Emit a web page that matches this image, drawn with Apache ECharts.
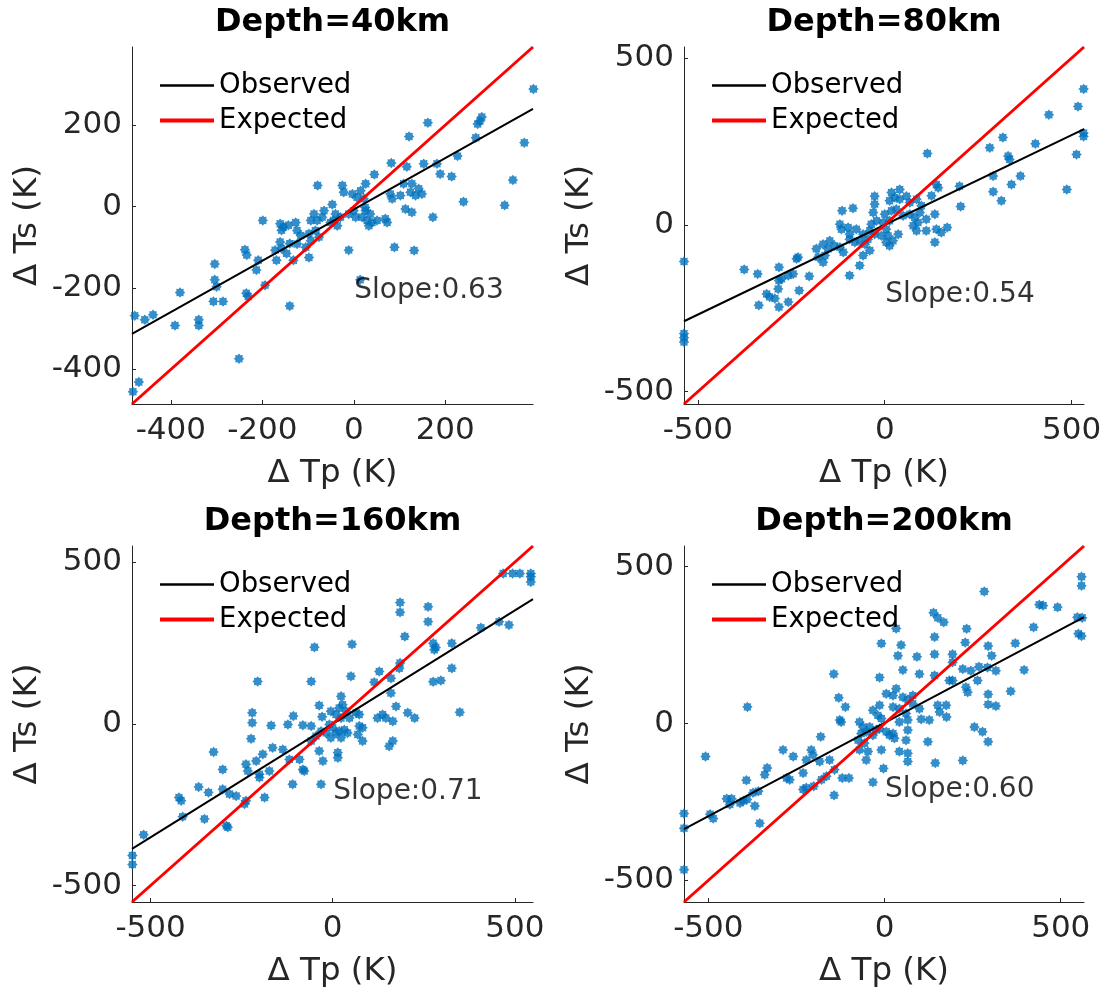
<!DOCTYPE html>
<html>
<head>
<meta charset="utf-8">
<script src="https://cdn.jsdelivr.net/npm/echarts@6/dist/echarts.min.js"></script>
<style>
html,body{margin:0;padding:0;background:#fff;}
#chart{width:1104px;height:995px;}
</style>
</head>
<body>
<div id="chart"></div>
<script>
// ---------------- data ----------------
const titles = ['Depth=40km', 'Depth=80km', 'Depth=160km', 'Depth=200km'];
const xName = '\u0394 Tp (K)';
const yName = '\u0394 Ts (K)';
const legendNames = ['Observed', 'Expected'];
const slopeLabels = ['Slope:0.63', 'Slope:0.54', 'Slope:0.71', 'Slope:0.60'];
const slopeAnchor = [0, -200];

const ranges = [[-485, 392], [-537, 533], [-551, 550], [-569, 566]];
const ticks40 = [-400, -200, 0, 200];
const ticks500 = [-500, 0, 500];
const tickSets = [ticks40, ticks500, ticks500, ticks500];

const obsLine40 = [[-485, -313], [392, 240]];
const obsLine80 = [[-537, -289], [533, 287]];
const obsLine160 = [[-551, -387], [550, 386]];
const obsLine200 = [[-569, -337], [566, 339]];

const expLine40 = [[-485, -485], [392, 392]];
const expLine80 = [[-537, -537], [533, 533]];
const expLine160 = [[-551, -551], [550, 550]];
const expLine200 = [[-569, -569], [566, 566]];

const pts40 = [
[393,289],[280,220],[276,210],[271,203],[162,206],[121,172],[267,169],[373,157],[227,124],[214,74],[240,12],[330,3],[348,65],
[-199,-34],[-161,-42],[-154,-50],[-143,-46],[-158,-58],[-161,-87],[-140,-91],[-158,-103],[-147,-115],[-132,-132],
[-238,-106],[-234,-119],[-209,-132],[-213,-156],[-172,-107],[-169,-132],[14,-180],
[-304,-141],[-304,-180],[-300,-197],[-307,-233],[-286,-233],[-235,-213],[-231,-221],[-194,-193],[-380,-211],[-140,-244],
[-391,-292],[-339,-278],[-339,-292],[-479,-268],[-457,-278],[-439,-266],[-251,-374],[-470,-431],[-483,-455],
[82,107],[116,98],[153,105],[182,105],[189,80],[45,79],[-79,52],[-25,52],[26,56],
[-22,35],[-3,31],[15,39],[7,23],[22,19],
[109,56],[127,56],[142,44],[124,35],[135,27],[149,31],
[80,31],[84,19],[102,27],
[-47,5],[113,-6],[127,-14],[173,-26],
[26,-10],[36,-18],[29,-34],[40,-39],[33,-47],[18,-26],[51,-34],[69,-30],[73,-39],[25,-2],
[0,-10],[-11,-18],[4,-26],
[-40,-18],[-29,-26],[-44,-34],[-36,-47],[-51,-39],
[-87,-18],[-69,-26],[-80,-34],[-94,-34],[-65,-10],
[-127,-39],[-124,-59],[-116,-71],[-98,-67],[-84,-59],[-76,-75],[-94,-84],[-105,-100],[-98,-125],[-124,-92],
[-11,-107],[89,-100],[132,-108]
];

const pts80 = [
[532,407],[517,355],[439,330],[532,275],[532,265],[513,211],[316,262],[281,231],[403,243],[330,206],[334,196],[114,214],
[290,146],[363,146],[339,121],[290,99],[312,72],[487,106],[200,116],[203,55],[167,-8],[151,-23],[134,-52],[138,121],[143,111],[125,87],
[-232,-97],[-236,-102],[-258,-152],[-245,-147],[-283,-127],[-283,-167],[-276,-162],[-202,-154],[-229,-197],[-258,-231],
[-376,-134],[-340,-147],[-316,-207],[-308,-216],[-294,-221],[-285,-192],[-337,-241],[-283,-246],
[-537,-110],[-537,-326],[-537,-338],[-537,-351],[-165,-112],
[40,106],[18,97],[27,82],[13,72],[40,77],[58,86],[67,67],[85,77],[98,57],
[-27,86],[-27,62],[-31,37],[-114,42],[-85,50],
[0,32],[18,42],[31,47],[49,27],[67,32],[80,22],[94,37],
[-4,7],[13,12],[-22,12],[-36,2],
[76,-3],[89,7],[85,-18],[111,-18],[138,-13],[134,32],[111,17],
[-120,2],[-116,-13],[-98,-8],[-94,-28],
[-76,-13],[-58,-28],[-45,-43],[-53,-58],[-40,-18],[-27,-28],[-67,-48],
[4,-13],[9,-33],[22,-48],[13,-63],[36,-28],[-9,-33],[4,-52],
[-183,-72],[-165,-58],[-147,-48],[-134,-63],[-152,-72],[-160,-92],[-178,-97],[-120,-67],[-111,-82],
[-94,-43],[-80,-52],
[-40,-77],[-58,-92],[-67,-122],[-94,-152]
];

const pts160 = [
[468,465],[494,465],[514,465],[544,465],[544,455],[544,439],
[185,375],[185,345],[262,362],[262,316],[484,306],[457,316],[407,297],[198,270],[53,246],[-50,237],
[276,249],[283,236],[279,229],[327,249],
[185,188],[183,172],[128,162],[160,141],[327,172],[50,147],[-59,131],[-206,131],[276,130],[297,134],[114,129],
[23,85],[27,59],[18,49],[-5,39],[9,29],[37,39],[23,18],[46,18],[64,34],[73,29],
[160,95],[174,54],[-37,57],[-29,22],
[-108,24],[-123,-2],[-82,-4],[-59,-7],
[-169,-5],[-221,34],[-221,3],[-224,-46],
[123,18],[137,29],[146,18],[165,8],[206,34],[225,18],[349,36],
[-9,-2],[0,-12],[9,-28],[-5,-43],[18,-23],[32,-18],[41,-28],[23,-43],[-18,-28],[-32,-23],[-46,-38],[-59,-53],
[73,-7],[82,-12],[69,-33],[82,-53],[155,-69],[165,-53],
[-165,-74],[-192,-94],[-210,-115],[-238,-125],[-233,-146],[-201,-156],[-174,-146],[-137,-79],[-119,-110],
[-91,-110],[-82,-141],[-78,-146],[-37,-84],[-27,-115],[14,-105],[14,-89],
[-327,-87],[-302,-141],[-201,-166],[-110,-187],[-32,-187],
[-368,-195],[-341,-212],[-302,-202],[-283,-217],[-265,-223],
[-238,-238],[-242,-248],[-187,-228],
[-422,-228],[-416,-238],[-412,-287],[-352,-294],[-292,-315],[-288,-320],[-519,-343],[-550,-407],[-550,-435]
];

const pts200 = [
[559,468],[559,439],[283,421],[439,379],[450,376],[491,371],[139,353],[151,337],[168,323],[33,303],[233,302],[423,307],
[547,339],[561,337],[550,286],[559,279],[142,276],[-9,255],[47,250],[38,216],[92,213],[142,221],[193,221],[193,195],
[229,258],[294,247],[304,216],[371,256],[52,171],[99,158],[142,153],[222,174],[245,168],[268,181],[292,179],[316,168],[396,171],
[-14,147],[-144,158],[184,137],[193,137],[231,116],[236,100],[264,137],[358,103],[294,93],[294,61],[316,56],
[33,111],[5,95],[24,89],[52,84],[66,76],[80,89],[-130,82],[-111,53],
[-14,58],[-33,42],[-19,26],[-9,16],[24,53],[42,47],[61,32],[80,63],[99,47],[66,11],[42,5],
[151,58],[175,58],[156,37],[176,21],[104,14],[127,11],[-389,53],[-127,11],[-123,5],
[-71,5],[-61,-11],[-52,-26],[-42,-11],[-33,-37],[-24,-21],[-66,-32],[-75,-53],[-57,-63],[-47,-89],[-71,-84],[-52,-116],
[-14,-16],[5,-26],[24,-32],[28,-47],[14,-37],[-9,-84],[-3,-143],
[66,-21],[61,-53],[42,-89],[66,-95],[66,-121],[123,-58],[144,-126],[222,-118],[255,-11],[278,-26],[294,-58],
[-181,-42],[-288,-84],[-259,-105],[-208,-84],[-203,-100],[-222,-116],[-184,-121],[-156,-116],[-142,-147],[-165,-168],[-179,-179],[-222,-205],[-231,-210],[-201,-200],
[-333,-142],[-340,-163],[-392,-181],[-358,-216],[-373,-221],[-390,-242],[-401,-247],[-410,-253],
[-448,-240],[-434,-240],[-439,-258],[-368,-263],[-278,-174],[-269,-179],[-231,-158],
[-120,-174],[-101,-174],[-33,-187],[-143,-229],[-508,-105],[-495,-289],[-486,-303],[-354,-318],[-569,-287],[-569,-334],[-569,-466]
];

const scatterSets = [pts40, pts80, pts160, pts200];
const obsLines = [obsLine40, obsLine80, obsLine160, obsLine200];
const expLines = [expLine40, expLine80, expLine160, expLine200];

// ---------------- layout / style ----------------
const FONT = 'DejaVu Sans';
const AXC = '#262626';
const grids = [
  {left: 132, top: 47, width: 401, height: 357},
  {left: 684, top: 47, width: 400, height: 357},
  {left: 132, top: 546, width: 401, height: 356},
  {left: 684, top: 546, width: 400, height: 356}
];
const STAR = 'path://M100 50 L83.3 63.8 L85.4 85.4 L63.8 83.3 L50 100 L36.2 83.3 L14.6 85.4 L16.7 63.8 L0 50 L16.7 36.2 L14.6 14.6 L36.2 16.7 L50 0 L63.8 16.7 L85.4 14.6 L83.3 36.2 Z';
const ICON_BLACK = 'path://M0 0H54V2.6H0Z';
const ICON_RED = 'path://M0 0H54V4H0Z';

function axis(i, name, isX) {
  return {
    type: 'value', gridIndex: i,
    min: ranges[i][0], max: ranges[i][1],
    name: name, nameLocation: 'middle', nameGap: isX ? 53 : 88,
    nameTextStyle: {fontSize: 32.5, color: AXC, fontFamily: FONT},
    axisLine: {show: true, onZero: false, lineStyle: {color: AXC, width: 1}},
    axisTick: {show: true, inside: true, length: 4, customValues: tickSets[i], lineStyle: {color: AXC, width: 1}},
    axisLabel: {show: true, customValues: tickSets[i], fontSize: 31, color: AXC, fontFamily: FONT, margin: isX ? 11 : 10},
    splitLine: {show: false},
    splitArea: {show: false}
  };
}

const xAxes = [], yAxes = [], series = [], legends = [], graphics = [];
grids.forEach((g, i) => {
  xAxes.push(axis(i, xName, true));
  yAxes.push(axis(i, yName, false));
  series.push({
    type: 'scatter', xAxisIndex: i, yAxisIndex: i, data: scatterSets[i],
    symbol: STAR, symbolSize: 10.5, itemStyle: {color: '#0072BD'}, clip: false, silent: true, z: 2
  });
  series.push({
    type: 'line', name: legendNames[0], xAxisIndex: i, yAxisIndex: i, data: obsLines[i],
    symbol: 'none', lineStyle: {color: '#000000', width: 2}, itemStyle: {color: '#000000'}, silent: true, z: 3
  });
  series.push({
    type: 'line', name: legendNames[1], xAxisIndex: i, yAxisIndex: i, data: expLines[i],
    symbol: 'none', lineStyle: {color: '#FF0000', width: 3}, itemStyle: {color: '#FF0000'}, silent: true, z: 4
  });
  series.push({
    type: 'scatter', xAxisIndex: i, yAxisIndex: i, data: [slopeAnchor],
    symbolSize: 1, itemStyle: {color: 'rgba(0,0,0,0)'}, silent: true, z: 5,
    label: {show: true, position: 'right', distance: 0, offset: [0, 3], formatter: slopeLabels[i],
      fontSize: 28, color: '#000', fontFamily: FONT}
  });
  legends.push({
    orient: 'vertical', left: g.left + 28, top: g.top + 21, padding: 0,
    data: [
      {name: legendNames[0], icon: ICON_BLACK},
      {name: legendNames[1], icon: ICON_RED}
    ],
    itemWidth: 54, itemHeight: 14, itemGap: 0, symbolKeepAspect: true,
    textStyle: {fontSize: 27.5, color: '#000', fontFamily: FONT, lineHeight: 35},
    selectedMode: false
  });
  graphics.push({
    type: 'text', x: g.left + g.width / 2, y: g.top - 24,
    style: {text: titles[i], fill: '#000', fontSize: 32, fontWeight: 'bold', fontFamily: FONT,
      align: 'center', verticalAlign: 'middle'}
  });
});

const chart = echarts.init(document.getElementById('chart'), null, {renderer: 'canvas'});
chart.setOption({
  backgroundColor: '#ffffff',
  animation: false,
  grid: grids.map(g => Object.assign({containLabel: false, outerBoundsMode: 'none', show: false}, g)),
  xAxis: xAxes,
  yAxis: yAxes,
  legend: legends,
  graphic: graphics,
  series: series
});
</script>
</body>
</html>
